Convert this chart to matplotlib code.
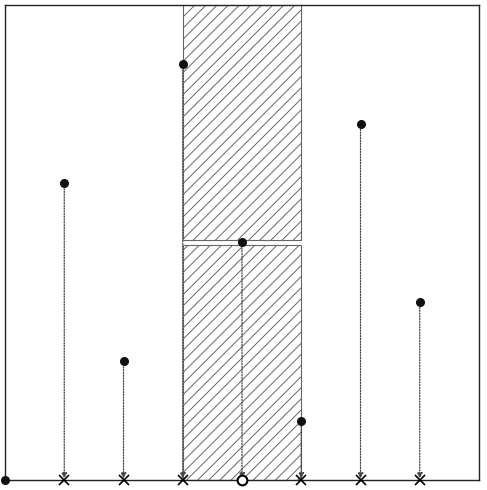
import matplotlib
matplotlib.use("Agg")
import matplotlib.pyplot as plt
from matplotlib.patches import Rectangle

xs = [0, 1, 2, 3, 4, 5, 6, 7]
ys = [0, 5, 2, 7, 4, 1, 6, 3]
span = (3, 5)
split = 4

plt.rcParams['hatch.color'] = '#888888'
plt.rcParams['hatch.linewidth'] = 0.7

fig = plt.figure(figsize=(4.87, 4.90), dpi=100)
ax = fig.add_axes([5/487, 10/490, 474/487, 475/490])
ax.set_xlim(0, 8)
ax.set_ylim(0, 8)
ax.set_xticks([])
ax.set_yticks([])
for s in ax.spines.values():
    s.set_linewidth(1.0)
    s.set_color('#222222')

gap = 0.04
ax.add_patch(Rectangle((span[0], 0), span[1]-span[0], split-gap, facecolor='white',
                       edgecolor='#666666', hatch='///', lw=0.8, zorder=1))
ax.add_patch(Rectangle((span[0], split+gap), span[1]-span[0], 8-split-gap, facecolor='white',
                       edgecolor='#666666', hatch='///', lw=0.8, zorder=1))

for x, y in zip(xs, ys):
    if y > 0:
        ax.annotate('', xy=(x, 0), xytext=(x, y),
                    arrowprops=dict(arrowstyle='-|>', linestyle=(0, (1, 1.2)), color='#444444',
                                    lw=0.9, shrinkA=4, shrinkB=1, mutation_scale=8),
                    zorder=3)
        if x == 4:
            ax.plot([x], [0], marker='o', ms=7, mfc='white', mec='black', mew=1.5,
                    clip_on=False, zorder=5)
        else:
            ax.plot([x], [0], marker='x', ms=6.5, color='black', mew=1.2,
                    clip_on=False, zorder=5)

ax.plot(xs, ys, 'o', color='#111111', ms=5.5, ls='none', clip_on=False, zorder=6)

fig.savefig('out.png', dpi=100)
